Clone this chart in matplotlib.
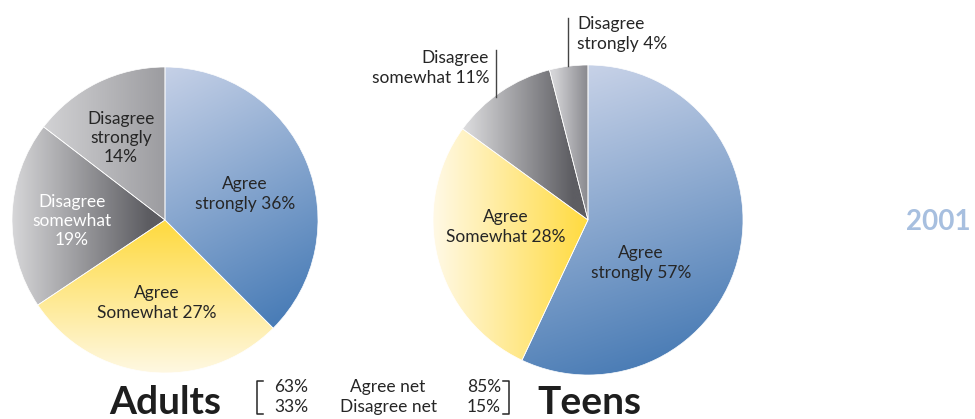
import numpy as np
import matplotlib
matplotlib.use("Agg")
import matplotlib.pyplot as plt
from matplotlib.colors import to_rgb

plt.rcParams['font.family'] = ['Lato', 'DejaVu Sans']

# survey answers, 2001
answers = ["Agree strongly", "Agree Somewhat", "Disagree somewhat", "Disagree strongly"]
adults = [36, 27, 19, 14]
teens = [57, 28, 11, 4]
agree_net = [63, 85]
disagree_net = [33, 15]
year = "2001"

W, H = 975, 419
fig = plt.figure(figsize=(W / 100, H / 100), dpi=100)

# overlay axes in pixel units for the free text and leader lines
ov = fig.add_axes([0, 0, 1, 1], zorder=3)
ov.set_xlim(0, W)
ov.set_ylim(H, 0)
ov.axis("off")
ov.patch.set_alpha(0)

TXT = "#262626"


def pie_axes(cx, cy, r):
    return fig.add_axes([(cx - r) / W, (H - cy - r) / H, 2 * r / W, 2 * r / H])


def shade(ax, wedge, p0, p1, c0, c1):
    # linear gradient from p0 to p1, clipped to the wedge
    n = 300
    xs = np.linspace(-1, 1, n)
    X, Y = np.meshgrid(xs, xs[::-1])
    d = np.array(p1) - np.array(p0)
    t = ((X - p0[0]) * d[0] + (Y - p0[1]) * d[1]) / (d @ d)
    t = np.clip(t, 0, 1)[..., None]
    img = np.array(to_rgb(c0)) * (1 - t) + np.array(to_rgb(c1)) * t
    im = ax.imshow(img, extent=(-1, 1, -1, 1), interpolation="bilinear", zorder=1)
    im.set_clip_path(wedge)


def draw_pie(cx, cy, r, values, grads):
    ax = pie_axes(cx, cy, r)
    wedges, _ = ax.pie(values, startangle=90, counterclock=False,
                       wedgeprops=dict(facecolor="none", edgecolor="white", linewidth=0.5))
    for w, g in zip(wedges, grads):
        shade(ax, w, *g)
        w.set_zorder(2)
    ax.set_xlim(-1, 1)
    ax.set_ylim(-1, 1)
    ax.set_aspect("auto")
    ax.axis("off")
    return ax


adult_grads = [
    ((-0.1, 0.95), (0.75, -0.65), "#c6d1e7", "#4a7db7"),
    ((0, -0.05), (0, -1.0), "#fedb45", "#fff8e2"),
    ((-0.1, 0), (-1.0, 0), "#5c5c61", "#d6d6d8"),
    ((-0.85, 0), (0, 0), "#d6d6d8", "#9c9ca0"),
]
teen_grads = [
    ((-0.05, 0.95), (0.55, -0.9), "#c6d1e7", "#4a7cb5"),
    ((-1.0, 0), (-0.02, 0), "#fff9e6", "#ffdb42"),
    ((-0.8, 0), (-0.1, 0), "#dcdcde", "#5d5d62"),
    ((-0.22, 0), (-0.01, 0), "#d4d4d7", "#8c8c91"),
]

draw_pie(165, 220, 153, adults, adult_grads)
draw_pie(588, 220, 155, teens, teen_grads)

fs = 12.5
ls = 1.25
# adults labels
ov.text(245, 194, f"Agree\nstrongly {adults[0]}%", ha="center", va="center",
        fontsize=fs, color=TXT, linespacing=ls)
ov.text(157, 303, f"Agree\nSomewhat {adults[1]}%", ha="center", va="center",
        fontsize=fs, color=TXT, linespacing=ls)
ov.text(72, 221, f"Disagree\nsomewhat\n{adults[2]}%", ha="center", va="center",
        fontsize=fs, color="white", linespacing=ls)
ov.text(121, 138, f"Disagree\nstrongly\n{adults[3]}%", ha="center", va="center",
        fontsize=fs, color=TXT, linespacing=ls)

# teens labels
ov.text(641, 263, f"Agree\nstrongly {teens[0]}%", ha="center", va="center",
        fontsize=fs, color=TXT, linespacing=ls)
ov.text(506, 227, f"Agree\nSomewhat {teens[1]}%", ha="center", va="center",
        fontsize=fs, color=TXT, linespacing=ls)
ov.text(489, 68, f"Disagree\nsomewhat {teens[2]}%", ha="right", va="center",
        fontsize=fs, color=TXT, linespacing=ls)
ov.text(577, 34, f"Disagree\nstrongly {teens[3]}%", ha="left", va="center",
        fontsize=fs, color=TXT, linespacing=ls)

# leader lines for the thin slices
ov.plot([568, 568], [18, 66], color="#444444", lw=1)
ov.plot([496, 496], [50, 97], color="#444444", lw=1)

ov.text(938, 222, year, ha="center", va="center", fontsize=20, fontweight="bold",
        color="#a7bfdf")

# titles and net summary
ov.text(165, 402, "Adults", ha="center", va="center", fontsize=28, fontweight="bold", color="#1e1e1e")
ov.text(589, 402, "Teens", ha="center", va="center", fontsize=28, fontweight="bold", color="#1e1e1e")

sfs = 12.5
y1, y2 = 387, 407
ov.text(291, y1, f"{agree_net[0]}%", ha="center", va="center", fontsize=sfs, color=TXT)
ov.text(291, y2, f"{disagree_net[0]}%", ha="center", va="center", fontsize=sfs, color=TXT)
ov.text(388, y1, "Agree net", ha="center", va="center", fontsize=sfs, color=TXT)
ov.text(388, y2, "Disagree net", ha="center", va="center", fontsize=sfs, color=TXT)
ov.text(484, y1, f"{agree_net[1]}%", ha="center", va="center", fontsize=sfs, color=TXT)
ov.text(484, y2, f"{disagree_net[1]}%", ha="center", va="center", fontsize=sfs, color=TXT)

ov.plot([263, 257, 257, 263], [381, 381, 414, 414], color=TXT, lw=1.1)
ov.plot([503, 509, 509, 503], [381, 381, 414, 414], color=TXT, lw=1.1)

fig.savefig("out.png", dpi=100)
